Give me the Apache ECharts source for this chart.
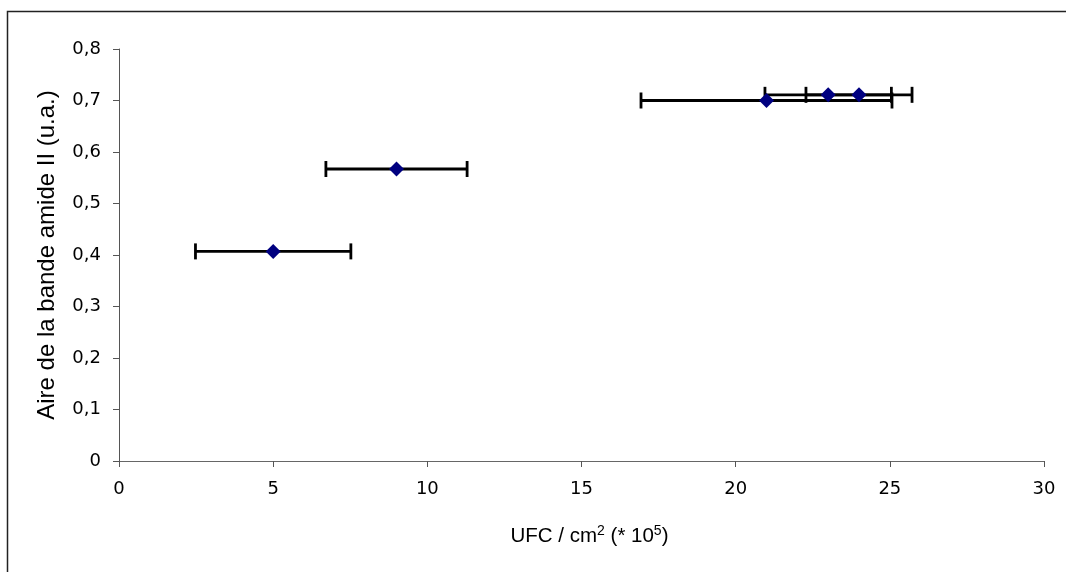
<!DOCTYPE html>
<html>
<head>
<meta charset="utf-8">
<script src="https://cdn.jsdelivr.net/npm/echarts@6/dist/echarts.min.js"></script>
<style>
html,body{margin:0;padding:0;background:#fff;}
#chart{width:1066px;height:572px;}
</style>
</head>
<body>
<div id="chart"></div>
<script>
// Data
const xValues = [5, 9, 21, 23, 24];
const yValues = [0.407, 0.567, 0.700, 0.711, 0.711];
const xErrors = [2.52, 2.29, 4.07, 2.05, 1.72];

const chart = echarts.init(document.getElementById('chart'));
const FONT = '"Liberation Sans", Arial, sans-serif';
const TICKFONT = '"DejaVu Sans", Verdana, sans-serif';

const points = xValues.map((x, i) => [x, yValues[i]]);
const errData = xValues.map((x, i) => [x, yValues[i], xErrors[i]]);

const option = {
  animation: false,
  backgroundColor: '#fff',
  textStyle: { fontFamily: FONT },
  graphic: [{
    type: 'rect',
    shape: { x: 7.5, y: 11.5, width: 1100, height: 600 },
    style: { fill: 'none', stroke: '#222', lineWidth: 1.5 },
    silent: true, z: -10
  }],
  grid: { left: 119, right: 22, top: 49, bottom: 111, containLabel: false },
  xAxis: {
    type: 'value', min: 0, max: 30, interval: 5,
    name: '{a|UFC / cm}{s|2}{a| (* 10}{s|5}{a|)}',
    nameLocation: 'middle', nameGap: 63,
    nameTextStyle: {
      padding: [0, 0, 0, 16],
      rich: {
        a: { fontSize: 20.5, fontFamily: FONT, color: '#000', lineHeight: 25 },
        s: { fontSize: 14, fontFamily: FONT, color: '#000', lineHeight: 14, verticalAlign: 'top' }
      }
    },
    axisLine: { onZero: false, lineStyle: { color: '#666', width: 1 } },
    axisTick: { show: true, inside: false, length: 6, lineStyle: { color: '#555' } },
    axisLabel: { fontSize: 18, color: '#000', fontFamily: TICKFONT, margin: 19 },
    splitLine: { show: false }
  },
  yAxis: {
    type: 'value', min: 0, max: 0.8, interval: 0.1,
    name: 'Aire de la bande amide II (u.a.)',
    nameLocation: 'middle', nameGap: 60,
    nameTextStyle: { fontSize: 24, color: '#000', fontFamily: FONT },
    axisLine: { show: true, lineStyle: { color: '#555', width: 1 } },
    axisTick: { show: true, inside: false, length: 6, lineStyle: { color: '#555' } },
    axisLabel: {
      fontSize: 18, color: '#000', fontFamily: TICKFONT, margin: 18,
      formatter: v => (Math.round(v * 10) / 10).toString().replace('.', ',')
    },
    splitLine: { show: false }
  },
  series: [
    {
      type: 'custom',
      data: errData,
      z: 2,
      renderItem: function (params, api) {
        const x = api.value(0), y = api.value(1), e = api.value(2);
        const p1 = api.coord([x - e, y]);
        const p2 = api.coord([x + e, y]);
        const h = 8;
        const style = { stroke: '#000', lineWidth: 2.8, fill: 'none' };
        return {
          type: 'group',
          children: [
            { type: 'line', shape: { x1: p1[0], y1: p1[1], x2: p2[0], y2: p2[1] }, style },
            { type: 'line', shape: { x1: p1[0], y1: p1[1] - h, x2: p1[0], y2: p1[1] + h }, style },
            { type: 'line', shape: { x1: p2[0], y1: p2[1] - h, x2: p2[0], y2: p2[1] + h }, style }
          ]
        };
      }
    },
    {
      type: 'scatter',
      data: points,
      z: 5,
      symbol: 'diamond',
      symbolSize: [15, 15],
      itemStyle: { color: '#000080', opacity: 1 }
    }
  ]
};
chart.setOption(option);
</script>
</body>
</html>
